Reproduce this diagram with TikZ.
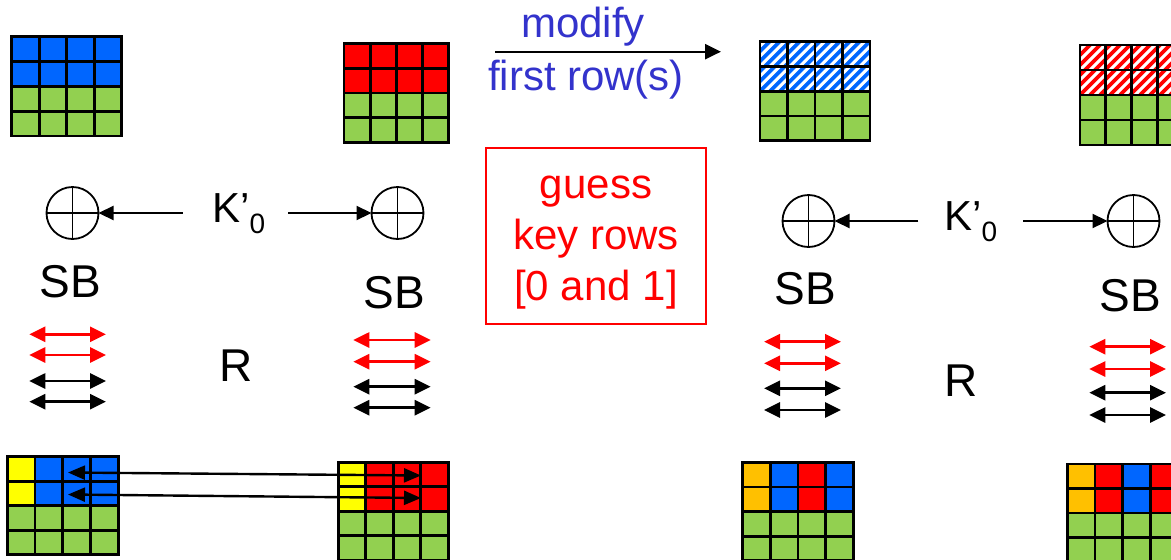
\documentclass[tikz,border=0pt]{standalone}
\usepackage{fontspec}
\setmainfont{Liberation Sans}
\usetikzlibrary{arrows.meta}

\definecolor{cellblue}{HTML}{0066FF}
\definecolor{cellred}{HTML}{FF0000}
\definecolor{cellgreen}{HTML}{92D050}
\definecolor{cellyellow}{HTML}{FFFF00}
\definecolor{cellorange}{HTML}{FFC000}
\definecolor{notered}{HTML}{FF0000}
\definecolor{noteblue}{HTML}{3333CC}

\tikzset{
  gridline/.style={line width=2.8pt, black, line cap=rect},
  xorgate/.style={circle, draw, line width=1.8pt, minimum size=52pt, inner sep=0pt, outer sep=0pt},
  keyarrow/.style={line width=2.2pt, -{Triangle[length=15pt,width=14pt]}},
  rotarrow/.style={line width=2.8pt, {Triangle[length=16pt,width=15pt]}-{Triangle[length=16pt,width=15pt]}},
  swaparrow/.style={line width=2.4pt, {Triangle[length=17pt,width=14pt]}-{Triangle[length=17pt,width=14pt]}},
  bigtext/.style={font=\fontsize{46}{52}\selectfont, inner sep=0pt},
  keytextstyle/.style={font=\fontsize{42}{48}\selectfont, inner sep=0pt},
  notetext/.style={font=\fontsize{42}{51}\selectfont, inner sep=0pt, align=center}
}

% fill the 16 cells of a state: x, y, cell width, cell height, colours of the two upper rows
\newcommand{\fillcells}[5]{%
  \foreach \cellcol [count=\i from 0] in {#5} {
    \pgfmathtruncatemacro\gc{mod(\i,4)}
    \pgfmathtruncatemacro\gr{div(\i,4)}
    \fill[\cellcol] ({#1+\gc*#3},{#2+\gr*#4}) rectangle ++(#3,#4);
  }
  \fill[cellgreen] (#1,{#2+2*#4}) rectangle ++({4*#3},{2*#4});
}
% black lines of a 4x4 state
\newcommand{\gridlines}[4]{%
  \foreach \k in {0,...,4} {
    \draw[gridline] ({#1+\k*#3},#2) -- ++(0,{4*#4});
    \draw[gridline] (#1,{#2+\k*#4}) -- ++({4*#3},0);
  }
}
% diagonal stripes over the two upper rows: x, y, cell width, cell height, colour
\newcommand{\hatchrows}[5]{%
  \begin{scope}
    \clip (#1,#2) rectangle ++({4*#3},{2*#4});
    \fill[white] (#1,#2) rectangle ++({4*#3},{2*#4});
    \foreach \s in {-60,-50,...,120}
      \draw[#5, line width=3.8pt] ({#1+\s},{#2+2*#4}) -- ++({2*#4},{-2*#4});
  \end{scope}
}

\begin{document}
\begin{tikzpicture}[x=1pt,y=-1pt]
\useasboundingbox (0,0) rectangle (1171,560);

% ---- top states ----
\fillcells{11.7}{36.7}{27.5}{24.8}{cellblue,cellblue,cellblue,cellblue,cellblue,cellblue,cellblue,cellblue}
\gridlines{11.7}{36.7}{27.5}{24.8}

\fillcells{344}{43.3}{26.1}{24.8}{cellred,cellred,cellred,cellred,cellred,cellred,cellred,cellred}
\gridlines{344}{43.3}{26.1}{24.8}

\fillcells{760}{41.7}{27.5}{24.75}{white,white,white,white,white,white,white,white}
\hatchrows{760}{41.7}{27.5}{24.75}{cellblue}
\gridlines{760}{41.7}{27.5}{24.75}

\fillcells{1080}{45}{25.7}{25}{white,white,white,white,white,white,white,white}
\hatchrows{1080}{45}{25.7}{25}{cellred}
\gridlines{1080}{45}{25.7}{25}

% ---- modification arrow ----
\coordinate (modA) at (495,51.7);
\coordinate (modB) at (721,51.7);
\draw[line width=2.4pt, -{Triangle[length=16pt,width=15pt]}] (modA) -- (modB);
\node[notetext, text=noteblue, anchor=base] (modtop) at (583,37) {modify};
\node[notetext, text=noteblue, anchor=base] (modbot) at (586,90) {first row(s)};

% ---- key guess box ----
\node[draw=notered, line width=1.5pt, minimum width=220pt, minimum height=176pt, inner sep=0pt] (keybox) at (596,236) {};
\node[notetext, text=notered] (keytext) at (596,242.5) {guess\\key rows\\{[0 and 1]}};

% ---- key addition ----
\node[xorgate] (x1) at (72.5,213) {};
\node[xorgate] (x2) at (397.5,213) {};
\node[xorgate] (x3) at (808.5,221) {};
\node[xorgate] (x4) at (1133.5,221) {};
\foreach \g in {x1,x2,x3,x4} {
  \draw[line width=1.5pt] (\g.north) -- (\g.south);
  \draw[line width=1.5pt] (\g.west) -- (\g.east);
}

\node[keytextstyle, anchor=base west] (k1) at (212,222.7) {K’\raisebox{-11pt}{\fontsize{28}{28}\selectfont 0}};
\node[keytextstyle, anchor=base west] (k2) at (944,230.7) {K’\raisebox{-11pt}{\fontsize{28}{28}\selectfont 0}};
\coordinate (k1l) at (182.7,213);
\coordinate (k1r) at (288.3,213);
\coordinate (k2l) at (918.3,221);
\coordinate (k2r) at (1023.3,221);
\draw[keyarrow] (k1l) -- (x1);
\draw[keyarrow] (k1r) -- (x2);
\draw[keyarrow] (k2l) -- (x3);
\draw[keyarrow] (k2r) -- (x4);

% ---- SubBytes labels ----
\node[bigtext, anchor=base] (sb1) at (70,297) {SB};
\node[bigtext, anchor=base] (sb2) at (394,308) {SB};
\node[bigtext, anchor=base] (sb3) at (805,304) {SB};
\node[bigtext, anchor=base] (sb4) at (1130,311) {SB};

% ---- row rotations ----
\foreach \xa/\xb/\ya/\yb/\yc/\yd in {29.3/106/334.3/355/381/401.7,
                                     353.3/430.7/340/361.7/386.7/407.7,
                                     764/841/341.7/363.3/388.3/410,
                                     1089.3/1166/346.7/369/392.7/415} {
  \draw[rotarrow, cellred] (\xa,\ya) -- (\xb,\ya);
  \draw[rotarrow, cellred] (\xa,\yb) -- (\xb,\yb);
  \draw[rotarrow, black] (\xa,\yc) -- (\xb,\yc);
  \draw[rotarrow, black] (\xa,\yd) -- (\xb,\yd);
}
\node[bigtext, anchor=base] (r1) at (236,381.7) {R};
\node[bigtext, anchor=base] (r2) at (961,396) {R};

% ---- bottom states ----
\fillcells{7.3}{456.7}{27.75}{24.5}{cellyellow,cellblue,cellblue,cellblue,cellyellow,cellblue,cellblue,cellblue}
\gridlines{7.3}{456.7}{27.75}{24.5}

\fillcells{338.3}{462.3}{27.5}{24.4}{cellyellow,cellred,cellred,cellred,cellyellow,cellred,cellred,cellred}
\gridlines{338.3}{462.3}{27.5}{24.4}

\fillcells{742.7}{462.3}{27.65}{24.6}{cellorange,cellblue,cellred,cellblue,cellorange,cellblue,cellred,cellblue}
\gridlines{742.7}{462.3}{27.65}{24.6}

\fillcells{1067.3}{464}{27.7}{24.5}{cellorange,cellred,cellblue,cellred,cellorange,cellred,cellblue,cellred}
\gridlines{1067.3}{464}{27.7}{24.5}

% ---- exchanged bytes ----
\coordinate (s1a) at (68,472.5);
\coordinate (s1b) at (421,475.5);
\coordinate (s2a) at (68,494.5);
\coordinate (s2b) at (421,498);
\draw[swaparrow] (s1a) -- (s1b);
\draw[swaparrow] (s2a) -- (s2b);
\end{tikzpicture}
\end{document}
